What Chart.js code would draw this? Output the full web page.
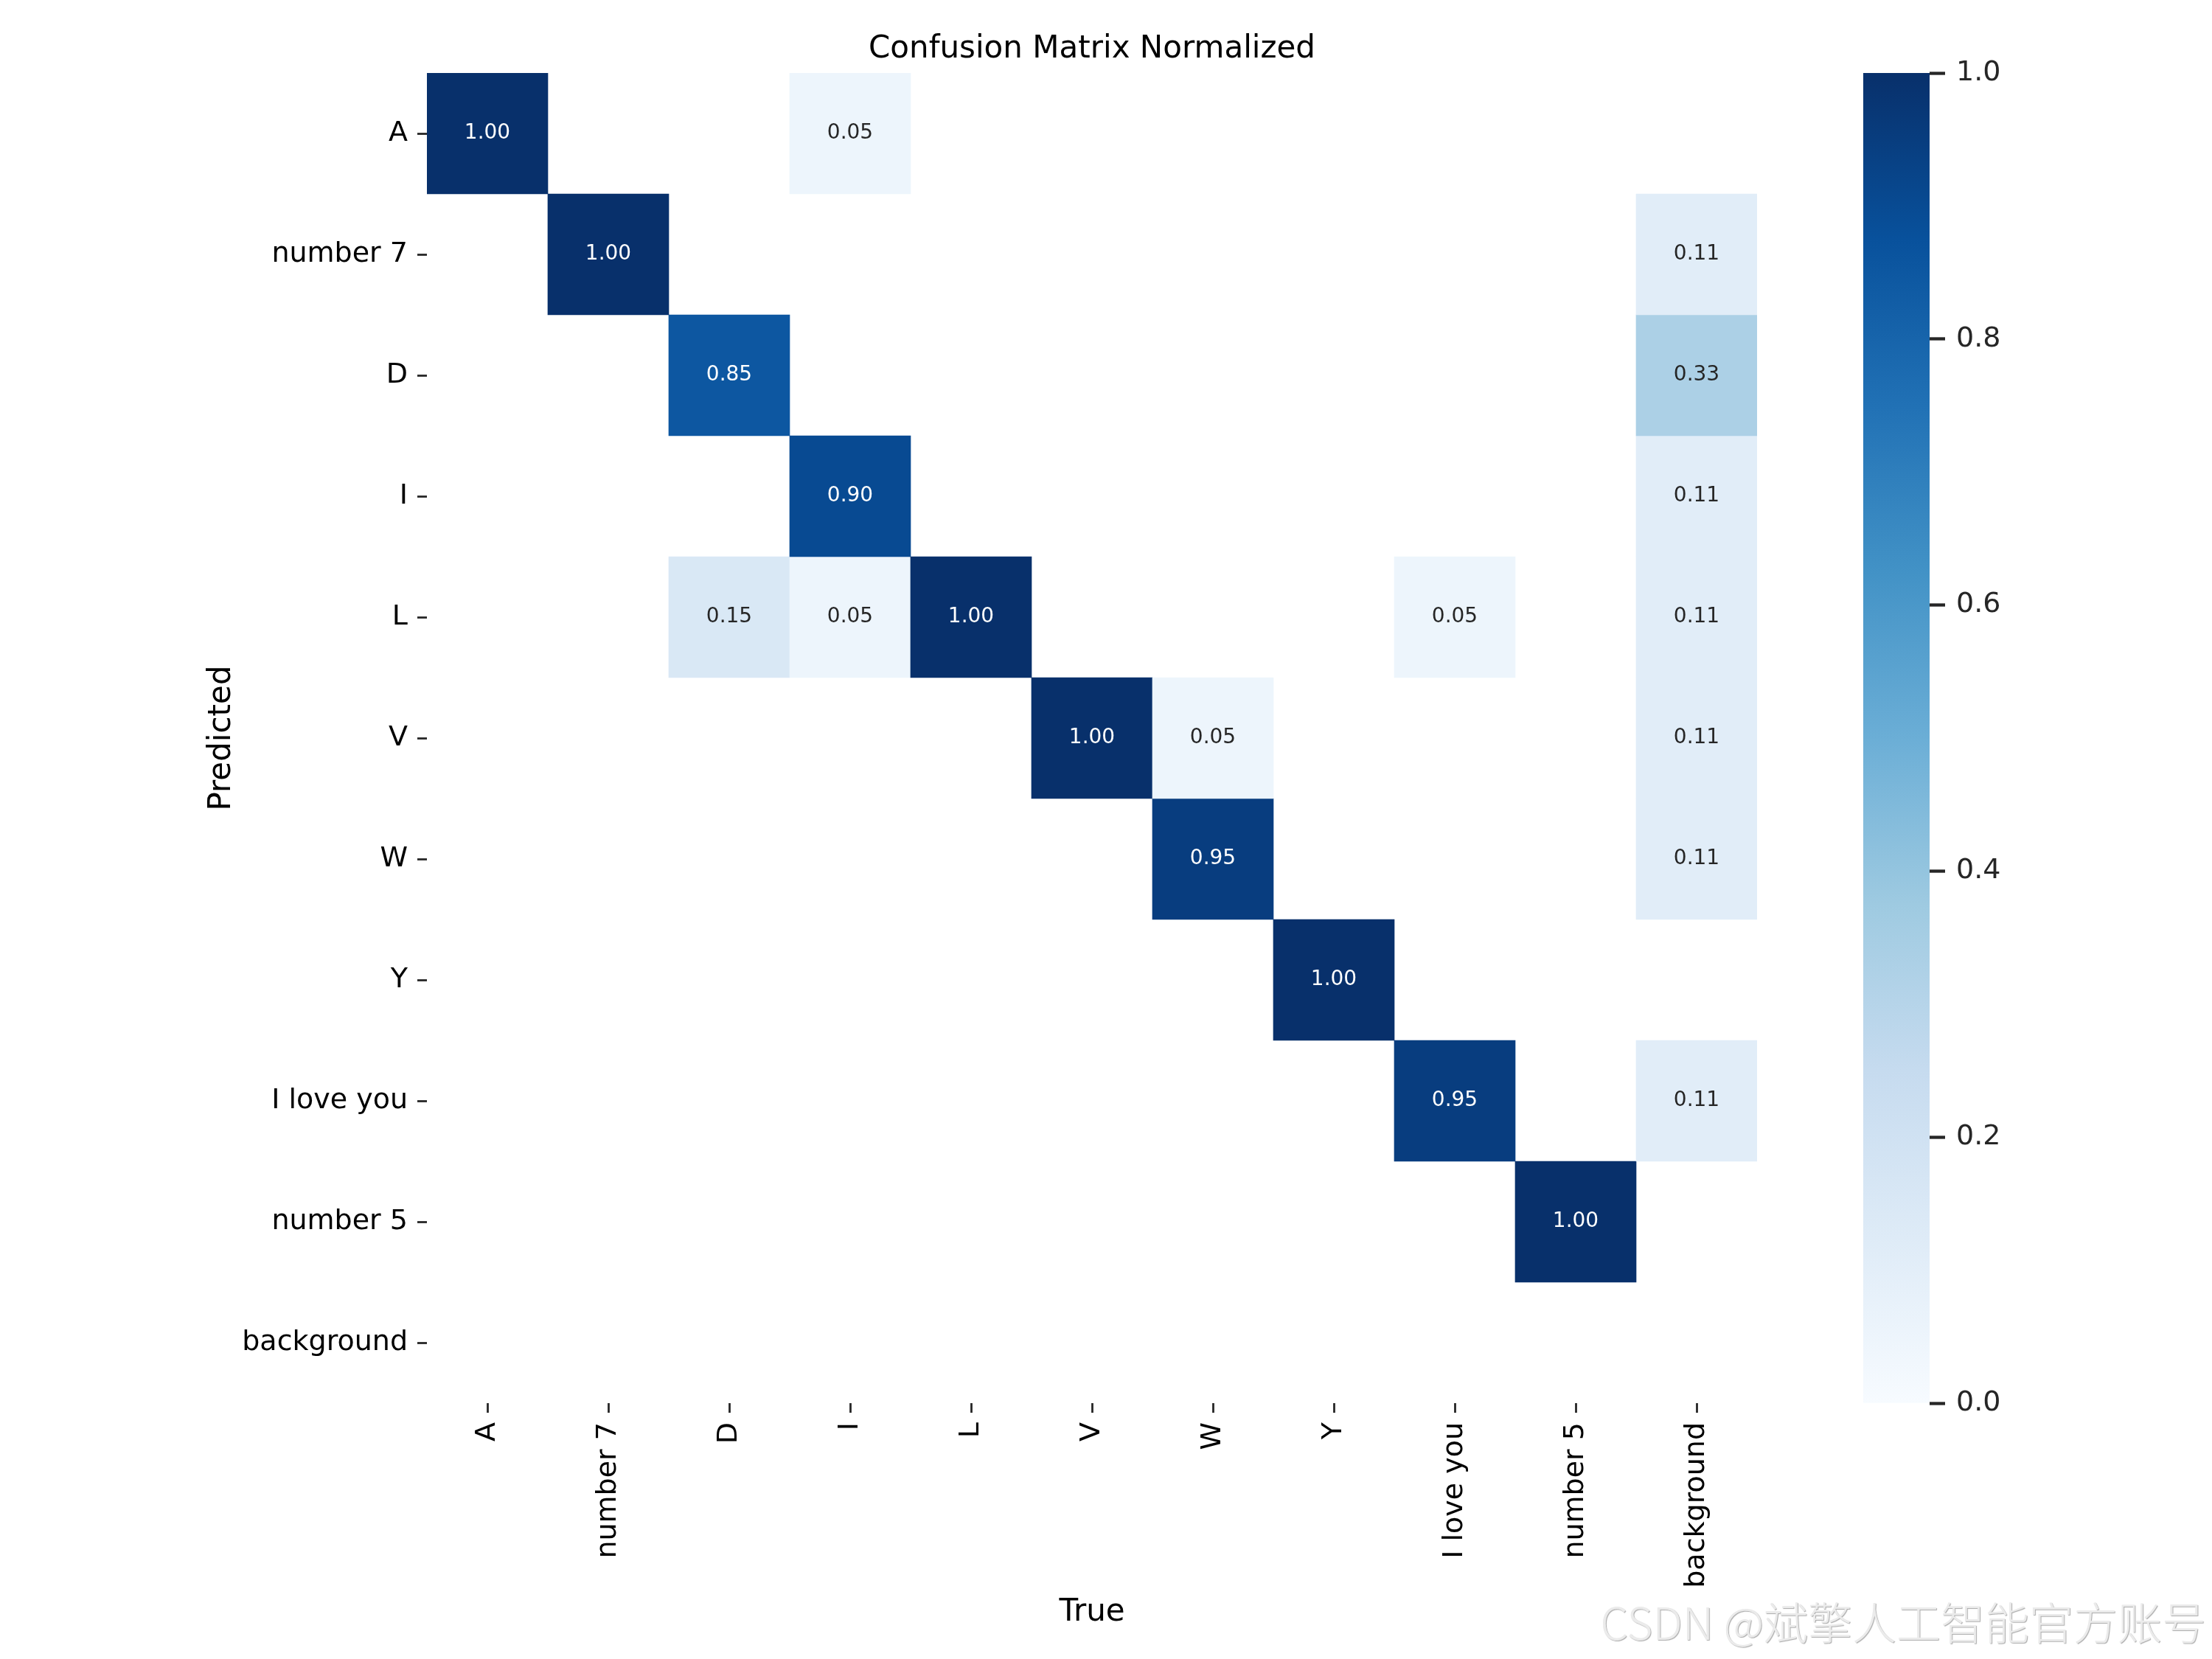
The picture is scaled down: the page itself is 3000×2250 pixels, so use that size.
<!DOCTYPE html>
<html>
<head>
<meta charset="utf-8">
<script src="https://cdn.jsdelivr.net/npm/chart.js@4.4.1/dist/chart.umd.min.js"></script>
<style>
    html, body { margin: 0; padding: 0; background: #fff; overflow: hidden; }
    #wrap { position: relative; width: 3000px; height: 2250px; }
    #matrixChart { position: absolute; left: 0; top: 0; }
    #cbarChart { position: absolute; left: 2527px; top: 0; }
    #mark {
        position: absolute; right: 8px; top: 2162px;
        font-family: 'Noto Sans CJK SC', sans-serif; font-size: 60px; font-weight: 300; line-height: 72px;
        color: #ebebeb; text-shadow: 1px 1px 1px #aaaaaa; white-space: nowrap;
    }
</style>
</head>
<body>
<div id="wrap">
    <canvas id="matrixChart" width="3000" height="2250"></canvas>
    <canvas id="cbarChart" width="473" height="2250"></canvas>
    <div id="mark">CSDN @斌擎人工智能官方账号</div>
</div>
<script>
const trueLabels = ['A', 'number 7', 'D', 'I', 'L', 'V', 'W', 'Y', 'I love you', 'number 5', 'background'];
const predictedLabels = ['A', 'number 7', 'D', 'I', 'L', 'V', 'W', 'Y', 'I love you', 'number 5', 'background'];

// rows = predicted, columns = true (0 = empty cell)
const rowA          = [1.00, 0, 0,    0.05, 0,    0,    0,    0,    0,    0,    0];
const rowNumber7    = [0,    1.00, 0, 0,    0,    0,    0,    0,    0,    0,    0.11];
const rowD          = [0,    0, 0.85, 0,    0,    0,    0,    0,    0,    0,    0.33];
const rowI          = [0,    0, 0,    0.90, 0,    0,    0,    0,    0,    0,    0.11];
const rowL          = [0,    0, 0.15, 0.05, 1.00, 0,    0,    0,    0.05, 0,    0.11];
const rowV          = [0,    0, 0,    0,    0,    1.00, 0.05, 0,    0,    0,    0.11];
const rowW          = [0,    0, 0,    0,    0,    0,    0.95, 0,    0,    0,    0.11];
const rowY          = [0,    0, 0,    0,    0,    0,    0,    1.00, 0,    0,    0];
const rowILoveYou   = [0,    0, 0,    0,    0,    0,    0,    0,    0.95, 0,    0.11];
const rowNumber5    = [0,    0, 0,    0,    0,    0,    0,    0,    0,    1.00, 0];
const rowBackground = [0,    0, 0,    0,    0,    0,    0,    0,    0,    0,    0];
const matrix = [rowA, rowNumber7, rowD, rowI, rowL, rowV, rowW, rowY, rowILoveYou, rowNumber5, rowBackground];

const cbarTicks = [0, 0.2, 0.4, 0.6, 0.8, 1.0];

const FONT = "'DejaVu Sans', sans-serif";
const TEXT = '#262626';

// matplotlib "Blues" anchors
const blues = ['#f7fbff', '#deebf7', '#c6dbef', '#9ecae1', '#6baed6', '#4292c6', '#2171b5', '#08519c', '#08306b'];

function hexToRgb(h) {
    return [parseInt(h.substr(1, 2), 16), parseInt(h.substr(3, 2), 16), parseInt(h.substr(5, 2), 16)];
}

function bluesColor(v) {
    const t = Math.max(0, Math.min(1, v)) * (blues.length - 1);
    const i = Math.min(Math.floor(t), blues.length - 2);
    const f = t - i;
    const a = hexToRgb(blues[i]);
    const b = hexToRgb(blues[i + 1]);
    const c = a.map((x, k) => Math.round(x + (b[k] - x) * f));
    return `rgb(${c[0]},${c[1]},${c[2]})`;
}

// write the value in each filled cell
const cellText = {
    id: 'cellText',
    afterDatasetsDraw(chart) {
        const ctx = chart.ctx;
        ctx.save();
        ctx.font = `28px ${FONT}`;
        ctx.textAlign = 'center';
        ctx.textBaseline = 'middle';
        chart.data.datasets.forEach((ds, r) => {
            const meta = chart.getDatasetMeta(r);
            meta.data.forEach((bar, c) => {
                const v = matrix[r][c];
                if (!(v > 0)) return;
                const p = bar.getCenterPoint();
                ctx.fillStyle = v > 0.5 ? '#ffffff' : TEXT;
                ctx.fillText(v.toFixed(2), p.x, p.y);
            });
        });
        ctx.restore();
    }
};

new Chart(document.getElementById('matrixChart'), {
    type: 'bar',
    data: {
        labels: trueLabels,
        datasets: matrix.map((row, r) => ({
            label: predictedLabels[r],
            data: row.map(v => (v > 0 ? [r - 0.5, r + 0.5] : null)),
            backgroundColor: row.map(v => bluesColor(v)),
            borderWidth: 0,
            grouped: false,
            barPercentage: 1,
            categoryPercentage: 1
        }))
    },
    options: {
        responsive: false,
        animation: false,
        layout: { padding: { top: 0, left: 0, bottom: 0, right: 617 } },
        plugins: {
            legend: { display: false },
            tooltip: { enabled: false },
            title: {
                display: true,
                fullSize: false,
                text: 'Confusion Matrix Normalized',
                color: '#000',
                font: { family: FONT, size: 42, weight: 'normal' },
                padding: { top: 42, bottom: 6.6 }
            }
        },
        scales: {
            x: {
                type: 'category',
                afterFit: (scale) => { scale.height = 347; },
                grid: { offset: false, drawOnChartArea: false, drawTicks: true, tickLength: 13, tickWidth: 2.8, tickColor: TEXT },
                border: { display: false },
                ticks: {
                    autoSkip: false, maxRotation: 90, minRotation: 90, padding: 13,
                    color: '#000', font: { family: FONT, size: 38 }
                },
                title: {
                    display: true, text: 'True', color: '#000',
                    font: { family: FONT, size: 42 }, padding: { top: 0, bottom: 38 }
                }
            },
            y: {
                type: 'linear',
                min: -0.5,
                max: 10.5,
                reverse: true,
                afterFit: (scale) => { scale.width = 579; },
                afterBuildTicks: (scale) => {
                    scale.ticks = predictedLabels.map((_, i) => ({ value: i }));
                },
                grid: { drawOnChartArea: false, drawTicks: true, tickLength: 13, tickWidth: 2.8, tickColor: TEXT },
                border: { display: false },
                ticks: {
                    autoSkip: false, padding: 13, color: '#000',
                    font: { family: FONT, size: 38 },
                    callback: (v) => predictedLabels[v]
                },
                title: {
                    display: true, text: 'Predicted', color: '#000',
                    font: { family: FONT, size: 42 }, padding: { top: 276, bottom: 0 }
                }
            }
        }
    },
    plugins: [cellText]
});

// colour bar
new Chart(document.getElementById('cbarChart'), {
    type: 'bar',
    data: {
        labels: [''],
        datasets: [{
            data: [[cbarTicks[0], cbarTicks[cbarTicks.length - 1]]],
            backgroundColor: (ctx) => {
                const area = ctx.chart.chartArea;
                if (!area) return null;
                const g = ctx.chart.ctx.createLinearGradient(0, area.bottom, 0, area.top);
                blues.forEach((c, i) => g.addColorStop(i / (blues.length - 1), c));
                return g;
            },
            borderWidth: 0,
            barPercentage: 1,
            categoryPercentage: 1
        }]
    },
    options: {
        responsive: false,
        animation: false,
        layout: { padding: { top: 99, bottom: 347, left: 0, right: 0 } },
        plugins: { legend: { display: false }, tooltip: { enabled: false } },
        scales: {
            x: { display: false },
            y: {
                position: 'right',
                min: 0,
                max: 1,
                afterFit: (scale) => { scale.width = 383; },
                afterBuildTicks: (scale) => {
                    scale.ticks = cbarTicks.map(v => ({ value: v }));
                },
                grid: { drawOnChartArea: false, drawTicks: true, tickLength: 21, tickWidth: 4.3, tickColor: TEXT },
                border: { display: false },
                ticks: {
                    padding: 15, color: TEXT,
                    font: { family: FONT, size: 38 },
                    callback: (v) => Number(v).toFixed(1)
                }
            }
        }
    }
});
</script>
</body>
</html>
